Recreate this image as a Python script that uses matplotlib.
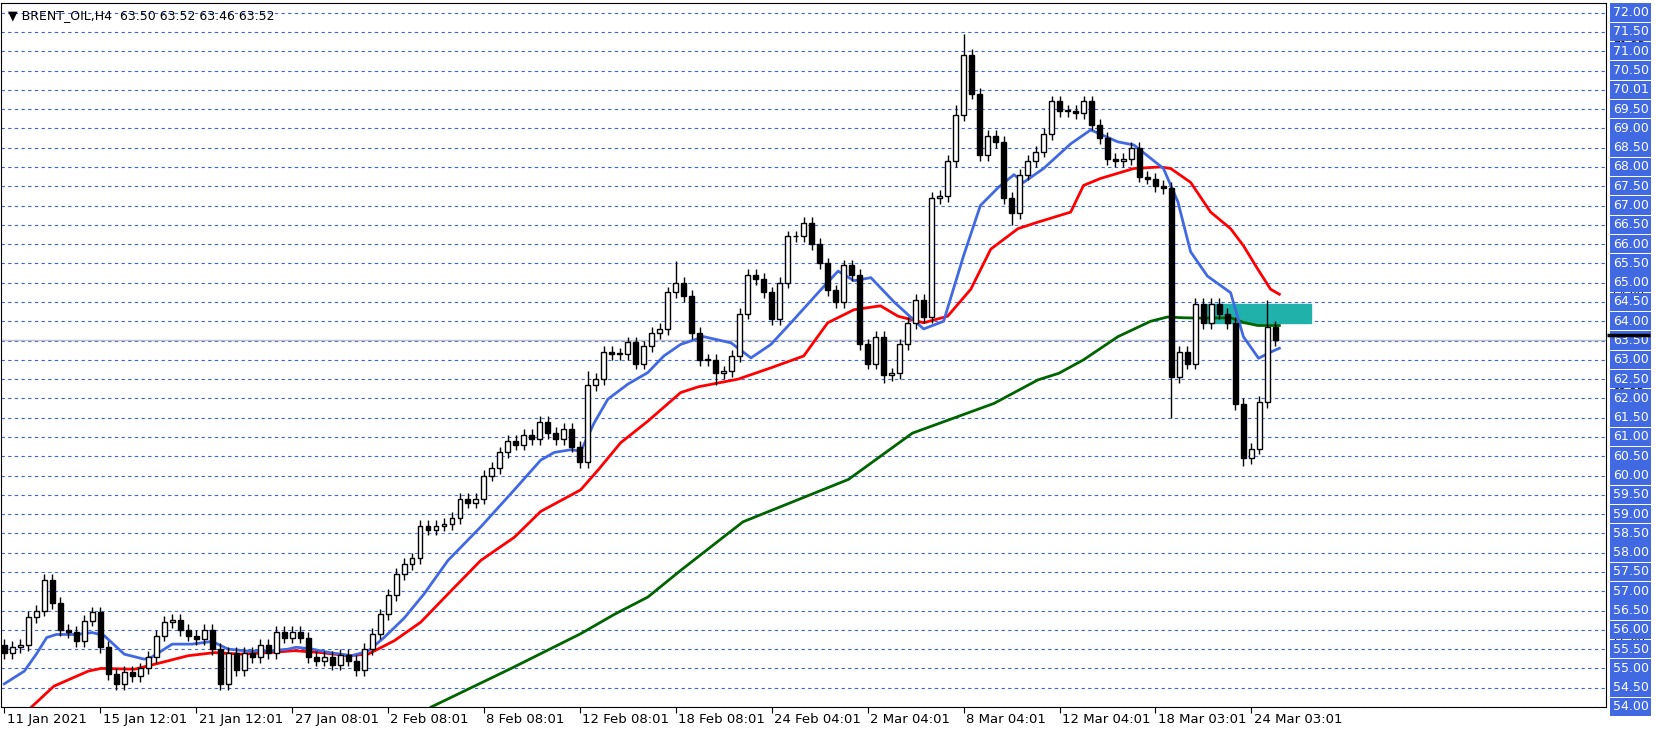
import numpy as np
import matplotlib
matplotlib.use("Agg")
import matplotlib.pyplot as plt
from matplotlib.transforms import blended_transform_factory

# closes, one candle per 8 hours (two H4 bars)
closes = [
    55.4, 55.55, 55.6, 56.33, 56.5, 57.3, 56.7, 56.0, 55.95, 55.7,
    56.24, 56.45, 55.55, 54.85, 54.6, 54.9, 54.8, 55.0, 55.3, 55.85,
    56.2, 56.25, 56.0, 55.85, 55.75, 56.0, 55.5, 54.6, 55.4, 54.95,
    55.4, 55.3, 55.6, 55.4, 55.95, 55.8, 55.95, 55.8, 55.3, 55.2,
    55.3, 55.1, 55.35, 55.2, 54.95, 55.5, 55.9, 56.4, 56.9, 57.45,
    57.7, 57.85, 58.7, 58.6, 58.7, 58.75, 58.9, 59.4, 59.3, 59.4,
    60.0, 60.2, 60.6, 60.9, 60.8, 61.05, 60.95, 61.4, 61.1, 60.95,
    61.2, 60.75, 60.35, 62.35, 62.5, 63.2, 63.15, 63.15, 63.45, 62.9,
    63.35, 63.7, 63.8, 64.75, 65.0, 64.65, 63.7, 63.0, 63.0, 62.65,
    62.7, 63.1, 64.2, 65.2, 65.1, 64.75, 64.05, 65.0, 66.2, 66.2,
    66.55, 66.0, 65.5, 64.8, 64.5, 65.45, 65.2, 63.4, 62.9, 63.6,
    62.6, 62.65, 63.4, 63.95, 64.55, 64.1, 67.2, 67.25, 68.15, 69.35,
    70.9, 69.9, 68.3, 68.8, 68.65, 67.2, 66.8, 67.8, 68.15, 68.4,
    68.85, 69.7, 69.45, 69.45, 69.4, 69.7, 69.1, 68.75, 68.2, 68.15,
    68.2, 68.5, 67.75, 67.7, 67.5, 67.45, 62.55, 63.2, 62.9, 64.45,
    63.95, 64.45, 64.2, 63.95, 61.85, 60.45, 60.7, 61.9, 63.85, 63.52,
]
first_open = 55.6
wick = 0.15
# candles with longer wicks: index -> (high, low)
long_wicks = {5: (57.45, None), 14: (None, 54.45), 27: (None, 54.45),
              72: (None, 60.2), 73: (62.7, None), 84: (65.55, None),
              89: (None, 62.35), 110: (None, 62.4), 119: (69.6, None),
              120: (71.45, None), 126: (None, 66.5), 146: (None, 61.5),
              155: (None, 60.25), 158: (64.55, None)}

# moving averages: (candle position, price)
blue_x = [0, 2.5, 4, 5.3, 6.5, 9, 11, 12.5, 15, 17.5, 18.5, 21, 23.5, 26, 28, 30.5, 33, 35.5,
          36.5, 38.5, 41, 43.5, 45.5, 47.5, 50, 52.5, 55.5, 59.6, 63.8, 67.1, 68.8, 70.9, 72.1,
          73.8, 75.5, 78, 80.5, 82.5, 84.6, 87.5, 90.9, 93.4, 95.9, 98.4, 101.8, 104.3, 106.3,
          108.4, 111.3, 115, 117.5, 120, 122.1, 124.4, 126.3, 127.5, 130, 133.4, 135.9, 139.3,
          141.3, 145, 146.8, 148.4, 150.5, 153.4, 155, 156.9, 158.4, 159.5]
blue_y = [54.6, 54.93, 55.37, 55.8, 55.88, 55.88, 55.93, 55.85, 55.37, 55.24, 55.3, 55.63, 55.63,
          55.7, 55.5, 55.45, 55.45, 55.5, 55.55, 55.5, 55.4, 55.33, 55.45, 55.8, 56.3, 56.93,
          57.8, 58.67, 59.63, 60.4, 60.6, 60.67, 60.63, 61.37, 61.98, 62.37, 62.67, 63.1, 63.4,
          63.6, 63.44, 63.05, 63.4, 63.96, 64.74, 65.3, 65.05, 65.13, 64.5, 63.8, 64.0, 65.7,
          67.0, 67.48, 67.8, 67.6, 67.96, 68.6, 68.96, 68.65, 68.57, 67.96, 67.1, 65.8, 65.17,
          64.74, 63.6, 63.04, 63.2, 63.3]
red_x = [3.4, 6.2, 10.5, 12.1, 16.3, 19.6, 23, 26.3, 29.6, 33, 36.3, 39.6, 43, 45.5, 48.8, 52.1,
         55.5, 59.6, 63.8, 67.1, 70.5, 72.1, 74.3, 77.1, 80.5, 84.6, 86.8, 91.8, 96, 100,
         103, 106.3, 109.6, 111.8, 115, 118, 120.9, 123.4, 126.8, 129.3, 133.4, 135, 137.1,
         141.3, 144.6, 145.9, 148.4, 150.9, 153.4, 155, 156.8, 158.4, 159.5]
red_y = [54.0, 54.54, 54.93, 55.0, 54.98, 55.15, 55.33, 55.41, 55.37, 55.41, 55.46, 55.41, 55.33,
         55.37, 55.72, 56.2, 56.93, 57.8, 58.4, 59.07, 59.45, 59.63, 60.15, 60.85, 61.41, 62.15,
         62.3, 62.5, 62.8, 63.1, 63.96, 64.3, 64.4, 64.13, 63.96, 64.13, 64.83, 65.87, 66.4,
         66.57, 66.83, 67.52, 67.7, 67.96, 68.0, 67.96, 67.6, 66.83, 66.4, 65.96, 65.35,
         64.83, 64.7, 64.6]
red_y = red_y[:len(red_x)]
green_x = [53.4, 63.4, 72.1, 76.3, 80.5, 84.6, 92.4, 105.6, 113.6, 123.8, 129.3, 131.9, 135,
           139.3, 143.4, 145.5, 147.5, 150, 153.4, 155, 156.8, 159.5]
green_y = [54.0, 55.0, 55.9, 56.4, 56.85, 57.54, 58.8, 59.9, 61.1, 61.87, 62.48, 62.65, 63.0,
           63.6, 64.0, 64.11, 64.09, 64.08, 64.09, 63.97, 63.89, 63.89]

zone_x = (150.5, 163.5)
zone_y = (63.95, 64.45)
last_price = 63.52

date_labels = ["11 Jan 2021", "15 Jan 12:01", "21 Jan 12:01", "27 Jan 08:01", "2 Feb 08:01",
               "8 Feb 08:01", "12 Feb 08:01", "18 Feb 08:01", "24 Feb 04:01", "2 Mar 04:01",
               "8 Mar 04:01", "12 Mar 04:01", "18 Mar 03:01", "24 Mar 03:01"]
price_levels = np.arange(54.0, 72.01, 0.5)
marker_prices = [71.25, 68.70, 67.10, 66.10, 64.80, 62.25, 59.65, 58.32, 57.10, 55.80]

GRID = "#3b63d9"
LABEL_BG = "#4169e1"

fig = plt.figure(figsize=(16.56, 7.31), dpi=100)
ax = fig.add_axes([0.0008, 24 / 731, 1605 / 1656, 704 / 731])
ax.set_xlim(-0.375, 200.4)
ax.set_ylim(54.0, 72.25)

for p in price_levels:
    ax.axhline(p, color=GRID, lw=0.8, ls=(0, (3, 3)), zorder=1)
ax.axhline(last_price, color="#c0c0c0", lw=1.0, zorder=1.5)

ax.add_patch(plt.Rectangle((zone_x[0], zone_y[0]), zone_x[1] - zone_x[0], zone_y[1] - zone_y[0],
                           color="#20b2aa", zorder=2))

ax.plot(green_x, green_y, color="#006400", lw=2, zorder=3)
ax.plot(red_x, red_y, color="#ff0000", lw=2, zorder=3)
ax.plot(blue_x, blue_y, color="#4169e1", lw=2, zorder=3)

opens = [first_open] + closes[:-1]
bw = 0.62
for i, (o, c) in enumerate(zip(opens, closes)):
    hi, lo = max(o, c) + wick, min(o, c) - wick
    if i in long_wicks:
        h2, l2 = long_wicks[i]
        hi = h2 if h2 is not None else hi
        lo = l2 if l2 is not None else lo
    ax.vlines(i, lo, hi, color="black", lw=1, zorder=4)
    bull = c >= o
    ax.add_patch(plt.Rectangle((i - bw / 2, min(o, c)), bw, max(abs(c - o), 0.02),
                               facecolor="white" if bull else "black", edgecolor="black",
                               lw=1, zorder=5))

for s in ax.spines.values():
    s.set_color("black")
ax.set_yticks([])
ax.set_xticks(np.arange(len(date_labels)) * 12)
ax.set_xticklabels([])
ax.tick_params(axis="x", length=4, direction="out", color="black")
for k, lab in enumerate(date_labels):
    ax.text(k * 12 + 0.3, 53.85, lab, ha="left", va="top", fontsize=9.5, color="black",
            clip_on=False)

tr = blended_transform_factory(ax.transAxes, ax.transData)
for p in marker_prices:
    ax.text(1.004, p - 0.12, f"{p:.2f}", transform=tr, ha="left", va="center", fontsize=8,
            color="black", zorder=1, clip_on=False)
for p in price_levels:
    lab = "70.01" if abs(p - 70.0) < 1e-6 else f"{p:.2f}"
    ax.text(1.004, p, lab, transform=tr, ha="left", va="center", fontsize=9, color="white",
            clip_on=False, zorder=10,
            bbox=dict(boxstyle="square,pad=0.22", fc=LABEL_BG, ec="none"))
ax.plot([1.0005, 1.027], [last_price + 0.12] * 2, transform=tr, color="black", lw=2.5,
        clip_on=False, zorder=11, solid_capstyle="butt")

ax.text(0.004, 0.992, "\u25bc BRENT_OIL,H4  63.50 63.52 63.46 63.52", transform=ax.transAxes,
        ha="left", va="top", fontsize=9, color="black")

fig.savefig("out.png", dpi=100, facecolor="white")
